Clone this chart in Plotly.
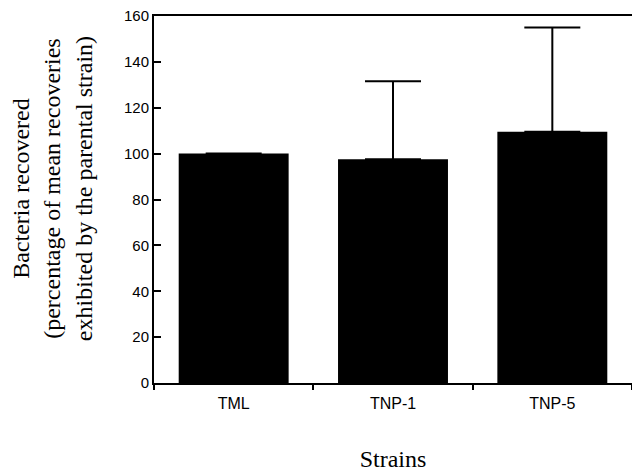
import plotly.graph_objects as go

# Bacterial recovery by strain, as % of the parental strain mean
strains = ["TML", "TNP-1", "TNP-5"]
recovered_pct = [100, 97.5, 109.5]
error_plus = [0, 34, 45.5]

y_ticks = [0, 20, 40, 60, 80, 100, 120, 140, 160]

SANS = "Arial, Liberation Sans, sans-serif"
SERIF = "Times New Roman, Liberation Serif, serif"

fig = go.Figure(
    go.Bar(
        x=strains,
        y=recovered_pct,
        width=0.69,
        marker=dict(color="black", line=dict(width=0)),
        error_y=dict(
            type="data",
            symmetric=False,
            array=error_plus,
            arrayminus=[0, 0, 0],
            color="black",
            thickness=2,
            width=28,
        ),
    )
)

fig.update_layout(
    width=632,
    height=472,
    margin=dict(l=154, r=0, t=16, b=89),
    paper_bgcolor="white",
    plot_bgcolor="white",
    showlegend=False,
)

fig.update_xaxes(
    type="category",
    range=[-0.5, 2.5],
    showline=True,
    linecolor="black",
    linewidth=2,
    mirror=True,
    ticks="outside",
    tickson="boundaries",
    ticklen=5,
    tickwidth=1.5,
    tickcolor="black",
    showgrid=False,
    tickfont=dict(family=SANS, size=16, color="black"),
    ticklabelstandoff=5,
    title=dict(text="Strains", font=dict(family=SERIF, size=24, color="black"), standoff=42),
)

fig.update_yaxes(
    range=[0, 160],
    tickvals=y_ticks,
    showline=True,
    linecolor="black",
    linewidth=2,
    ticks="inside",
    ticklen=7,
    tickwidth=2,
    tickcolor="black",
    showgrid=False,
    zeroline=False,
    tickfont=dict(family=SANS, size=15, color="black"),
)

# Three-line y-axis title, rotated and placed left of the tick labels
fig.add_annotation(
    text="Bacteria recovered<br>(percentage of mean recoveries<br>exhibited by the parental strain)",
    xref="paper",
    yref="paper",
    x=-0.212,
    y=0.53,
    xanchor="center",
    yanchor="middle",
    textangle=-90,
    showarrow=False,
    font=dict(family=SERIF, size=24, color="black"),
)

fig.write_html("out.html")
